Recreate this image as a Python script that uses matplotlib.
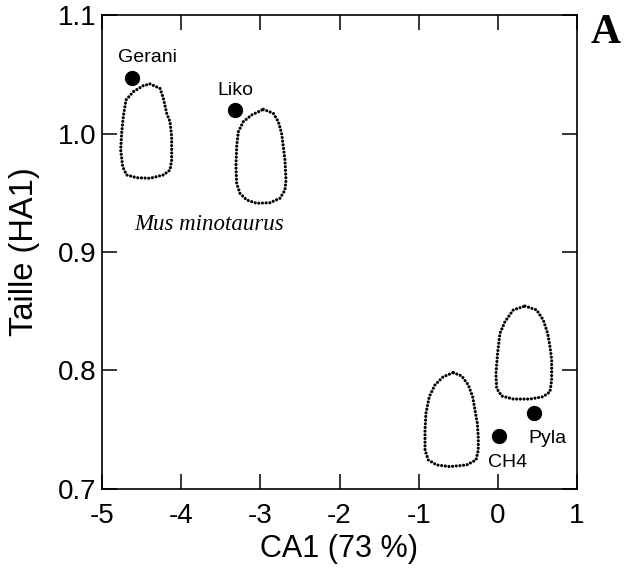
import matplotlib
matplotlib.use("Agg")
import matplotlib.pyplot as plt

# Sample points
sample_names = ["Gerani", "Liko", "CH4", "Pyla"]
sample_x = [-4.62, -3.32, 0.01, 0.455]
sample_y = [1.047, 1.020, 0.745, 0.764]

# Outlines (tooth contours)
outline1_x = [-4.394, -4.268, -4.225, -4.183, -4.141, -4.120, -4.120, -4.141, -4.225, -4.394,
              -4.562, -4.689, -4.739, -4.764, -4.752, -4.731, -4.697, -4.604, -4.478]
outline1_y = [1.0418, 1.0381, 1.0297, 1.0170, 1.0100, 0.9973, 0.9776, 0.9692, 0.9650, 0.9622,
              0.9627, 0.9650, 0.9720, 0.9861, 1.0001, 1.0142, 1.0283, 1.0353, 1.0404]
outline2_x = [-2.962, -2.836, -2.773, -2.731, -2.710, -2.689, -2.676, -2.689, -2.752, -2.878,
              -3.047, -3.173, -3.257, -3.299, -3.308, -3.299, -3.278, -3.215, -3.110]
outline2_y = [1.0204, 1.0170, 1.0100, 1.0001, 0.9889, 0.9776, 0.9608, 0.9523, 0.9453, 0.9416,
              0.9411, 0.9439, 0.9495, 0.9579, 0.9720, 0.9889, 1.0015, 1.0100, 1.0156]
outline3_x = [-0.562, -0.457, -0.373, -0.318, -0.289, -0.259, -0.247, -0.247, -0.276, -0.394,
              -0.605, -0.773, -0.878, -0.920, -0.920, -0.908, -0.866, -0.794, -0.689]
outline3_y = [0.7982, 0.7954, 0.7878, 0.7779, 0.7667, 0.7554, 0.7442, 0.7329, 0.7245, 0.7203,
              0.7189, 0.7203, 0.7245, 0.7329, 0.7498, 0.7639, 0.7779, 0.7878, 0.7948]
outline4_x = [0.343, 0.490, 0.574, 0.629, 0.659, 0.680, 0.680, 0.659, 0.574, 0.406,
              0.195, 0.048, -0.015, -0.024, -0.003, 0.027, 0.090, 0.195]
outline4_y = [0.8544, 0.8511, 0.8426, 0.8314, 0.8201, 0.8089, 0.7920, 0.7821, 0.7779, 0.7759,
              0.7759, 0.7785, 0.7850, 0.7976, 0.8145, 0.8314, 0.8412, 0.8511]

# label anchor positions (left, baseline) in data units
label_x = [-4.798, -3.547, -0.124, 0.381]
label_y = [1.0603, 1.0325, 0.7186, 0.7388]

species_label = "Mus minotaurus"
species_pos = (-3.647, 0.9186)

x_ticks = [-5, -4, -3, -2, -1, 0, 1]
y_ticks = [0.7, 0.8, 0.9, 1.0, 1.1]
y_ticklabels = ["0.7", "0.8", "0.9", "1.0", "1.1"]

plt.rcParams['font.family'] = ['Liberation Sans', 'DejaVu Sans']

fig = plt.figure(figsize=(6.26, 5.71), dpi=100)
ax = fig.add_axes([102/626, 1-489/571, 475/626, 474/571])

for ox, oy in [(outline1_x, outline1_y), (outline2_x, outline2_y),
               (outline3_x, outline3_y), (outline4_x, outline4_y)]:
    ax.plot(ox + ox[:1], oy + oy[:1], color='black', lw=2.3,
            linestyle=(0, (0.001, 1.15)), dash_capstyle='round',
            solid_joinstyle='round')

ax.plot(sample_x, sample_y, 'o', color='black', markersize=10)

for n, x, y in zip(sample_names, label_x, label_y):
    ax.text(x, y, n, fontsize=14, ha='left', va='baseline')

ax.text(species_pos[0], species_pos[1], species_label, fontsize=16.5, style='italic',
        family=['Liberation Serif'], ha='center', va='baseline')

ax.set_xlim(-5, 1)
ax.set_ylim(0.7, 1.1)
ax.set_xticks(x_ticks)
ax.set_xticklabels([str(t) for t in x_ticks])
ax.set_yticks(y_ticks)
ax.set_yticklabels(y_ticklabels)
ax.tick_params(direction='in', length=11, width=1.1, labelsize=20,
               top=True, right=True)
ax.tick_params(axis='x', pad=10)
ax.tick_params(axis='y', pad=4)
for s in ax.spines.values():
    s.set_linewidth(1.2)

ax.set_xlabel("CA1 (73 %)", fontsize=22, labelpad=4)
ax.set_ylabel("Taille (HA1)", fontsize=23.5, labelpad=13)

fig.text(606/626, 1-33/571, "A", fontsize=30, fontweight='bold',
         family=['Liberation Serif'], ha='center', va='center')

fig.savefig("out.png", dpi=100)
